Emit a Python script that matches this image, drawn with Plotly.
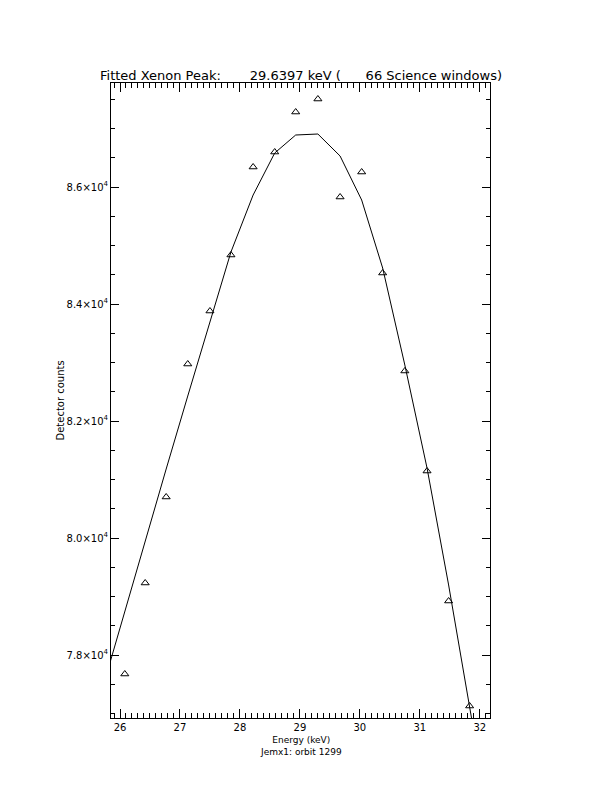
import plotly.graph_objects as go

# measured data (triangles)
energy = [26.08, 26.42, 26.77, 27.13, 27.50, 27.85, 28.22, 28.58, 28.93,
          29.30, 29.67, 30.03, 30.38, 30.75, 31.12, 31.48, 31.83]
counts = [77675, 79231, 80701, 82974, 83880, 84838, 86342, 86598, 87282,
          87504, 85829, 86256, 84530, 82855, 81145, 78923, 77128]

# fitted curve (polyline)
fit_energy = [25.72, 26.08, 26.42, 26.77, 27.13, 27.50, 27.85, 28.22, 28.58, 28.93,
              29.30, 29.67, 30.03, 30.38, 30.75, 31.12, 31.48, 31.83, 32.20]
fit_counts = [77470, 78752, 79932, 81179, 82427, 83675, 84889, 85863, 86581, 86889,
              86906, 86530, 85778, 84615, 82957, 81197, 79197, 77111, 74923]

ytick_vals = [78000, 80000, 82000, 84000, 86000]
ytick_text = ["7.8×10<sup>4</sup>", "8.0×10<sup>4</sup>", "8.2×10<sup>4</sup>",
              "8.4×10<sup>4</sup>", "8.6×10<sup>4</sup>"]
xtick_vals = [26, 27, 28, 29, 30, 31, 32]

title_text = "Fitted Xenon Peak:       29.6397 keV (      66 Science windows)"
x_title = "Energy (keV)"
subtitle = "Jemx1: orbit 1299"
y_title = "Detector counts"

FONT = "DejaVu Sans"

fig = go.Figure()
fig.add_trace(go.Scatter(x=fit_energy, y=fit_counts, mode="lines",
                         line=dict(color="black", width=1), showlegend=False))
fig.add_trace(go.Scatter(x=energy, y=counts, mode="markers",
                         marker=dict(symbol="triangle-up-open", size=7,
                                     color="black", line=dict(width=1)),
                         showlegend=False))

fig.update_layout(
    width=612, height=792,
    paper_bgcolor="white", plot_bgcolor="white",
    margin=dict(l=103, r=130, t=75, b=82),
    font=dict(family=FONT, size=10, color="black"),
)
fig.update_xaxes(
    range=[25.85, 32.17], showgrid=False, zeroline=False,
    showline=True, linecolor="black", linewidth=1, mirror="ticks",
    ticks="inside", ticklen=9, tickcolor="black", tickwidth=1,
    tickvals=xtick_vals, tickfont=dict(size=10),
    minor=dict(dtick=0.1, ticks="inside", ticklen=5, tickcolor="black", tickwidth=1),
)
fig.update_yaxes(
    range=[76923, 87778], showgrid=False, zeroline=False,
    showline=True, linecolor="black", linewidth=1, mirror="ticks",
    ticks="inside", ticklen=8, tickcolor="black", tickwidth=1,
    tickvals=ytick_vals, ticktext=ytick_text, tickfont=dict(size=10),
    minor=dict(dtick=500, tick0=78000, ticks="inside", ticklen=4, tickcolor="black", tickwidth=1),
)

fig.add_annotation(text=title_text, xref="paper", yref="paper", x=0.5, y=1.0,
                   yshift=-2, xanchor="center", yanchor="bottom", showarrow=False,
                   font=dict(size=13, family=FONT))
fig.add_annotation(text=x_title + "<br>" + subtitle, xref="paper", yref="paper",
                   x=0.5, y=0, yshift=-15, xanchor="center", yanchor="top",
                   showarrow=False, font=dict(size=9, family=FONT))
fig.add_annotation(text=y_title, xref="paper", yref="paper", x=0, y=0.5,
                   xshift=-51, xanchor="center", yanchor="middle", textangle=-90,
                   showarrow=False, font=dict(size=10, family=FONT))

fig.write_html("out.html")
